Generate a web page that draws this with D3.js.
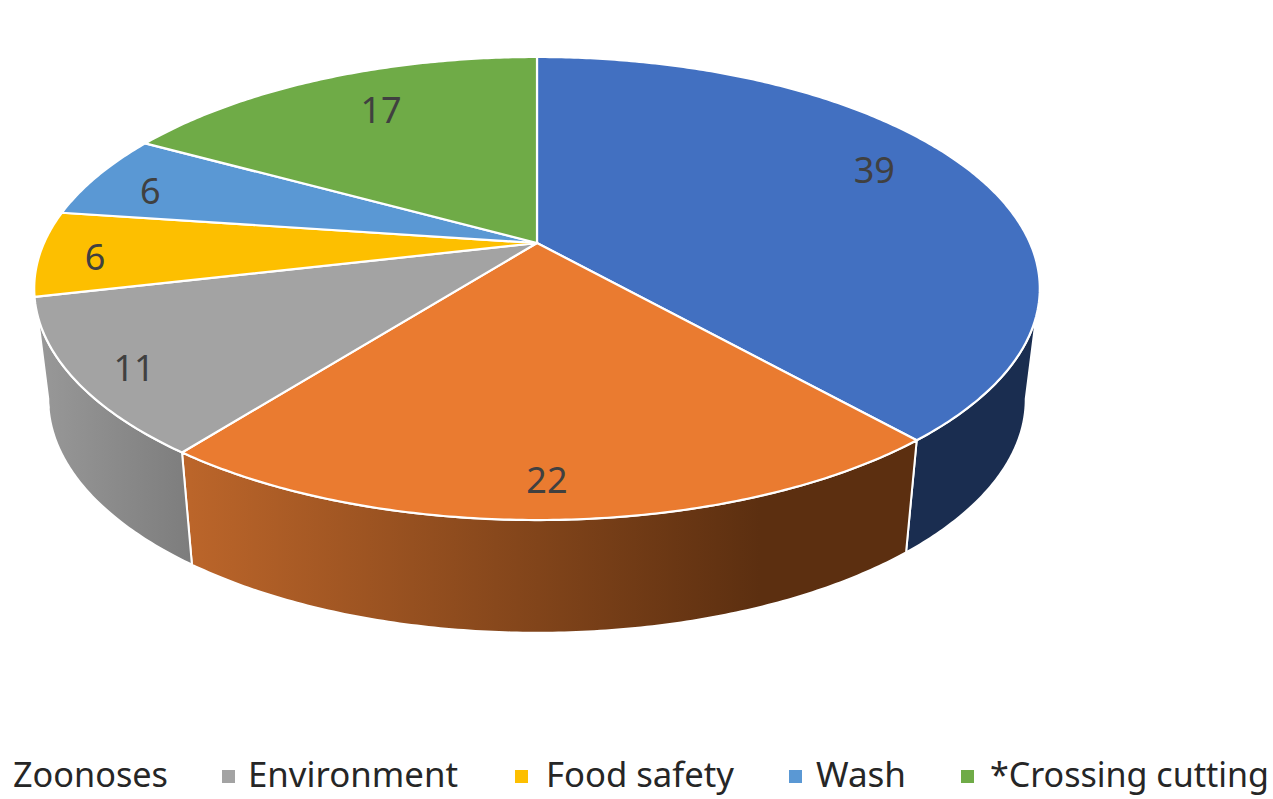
<!DOCTYPE html>
<html>
<head>
<meta charset="utf-8">
<script src="https://cdn.jsdelivr.net/npm/d3@7"></script>
<style>
  html, body { margin: 0; padding: 0; background: #fff; }
  svg { display: block; }
  text { font-family: "Noto Sans", sans-serif; }
</style>
</head>
<body>
<div id="chart"></div>
<script>
// Slices, clockwise from 12 o'clock. Printed values add up to 101.
const sliceValues = [39, 22, 11, 6, 6, 17];
const sliceColors = ['#4270c1', '#ea7b30', '#a3a3a3', '#fdbf00', '#5a98d4', '#6fab47'];
const sideColors = [
    ['#1a2d50', '#1a2d50'],
    ['#bb652a', '#5c2f10'],
    ['#989898', '#7d7d7d'],
    ['#997300', '#997300'],
    ['#375d80', '#375d80'],
    ['#43682b', '#43682b']
];

// Legend as cropped in the picture: the first two entries are cut off
const legendNames = ['Zoonoses', 'Environment', 'Food safety', 'Wash', '*Crossing cutting'];
const legendColors = [null, '#a3a3a3', '#fdbf00', '#5a98d4', '#6fab47'];
const legendTextX = [13, 248, 546, 816, 990];
const legendTextW = [155, 210, 188, 90, 279];
const legendMarkX = [null, 222, 515, 789, 961];

// Label position inside its slice: radius fraction and turn from the mid angle (degrees)
const labelRadius = [0.81, 0.88, 0.893, 0.888, 0.859, 0.766];
const labelTurn = [-5, 0.7, -1.5, -1.3, -2, 2.4];

const W = 1273, H = 799;
const cx = 537, cy = 243;      // apex of the tilted disc
const R = 493, S = 222.6, K = 0.1965; // perspective of the top face
const depth = 110.5, bottomScaleX = 0.972, bottomScaleY = 1.008;
const rimLimit = 0.194;        // depth coordinate where the rim turns away

const svg = d3.select('#chart').append('svg')
    .attr('width', W)
    .attr('height', H);
const defs = svg.append('defs');

// Top face point for angle a (clockwise from top) and radius fraction r
function topPoint(a, r = 1) {
    const u = r * Math.sin(a), v = -r * Math.cos(a);
    const d = 1 - K * v;
    return [cx + R * u / d, cy + S * v / d];
}

function bottomPoint(a) {
    const p = topPoint(a);
    return [cx + (p[0] - cx) * bottomScaleX, cy + (p[1] - cy) * bottomScaleY + depth];
}

function arcAngles(a0, a1) {
    const n = Math.max(2, Math.ceil((a1 - a0) / 0.01));
    return d3.range(n + 1).map(i => a0 + (a1 - a0) * i / n);
}

const pie = d3.pie().sort(null).value(d => d);
const slices = pie(sliceValues);
const line = d3.line();

// Front part of the disc that can be seen
const aFrom = Math.PI - Math.acos(rimLimit);
const aTo = Math.PI + Math.acos(rimLimit);

// Side walls
const sides = slices.map((d, i) => ({
    i,
    a0: Math.max(d.startAngle, aFrom),
    a1: Math.min(d.endAngle, aTo)
})).filter(d => d.a1 > d.a0);

sides.forEach(d => {
    const g = defs.append('linearGradient')
        .attr('id', 'side-' + d.i)
        .attr('gradientUnits', 'userSpaceOnUse')
        .attr('x1', d.i === 1 ? 190 : 40).attr('x2', d.i === 1 ? 760 : 190)
        .attr('y1', 0).attr('y2', 0);
    g.append('stop').attr('offset', '0%').attr('stop-color', sideColors[d.i][0]);
    g.append('stop').attr('offset', '100%').attr('stop-color', sideColors[d.i][1]);
});

svg.append('g').selectAll('path')
    .data(sides)
    .enter().append('path')
    .attr('d', d => {
        const angles = arcAngles(d.a0, d.a1);
        return line(angles.map(a => topPoint(a)).concat(angles.slice().reverse().map(bottomPoint))) + 'Z';
    })
    .attr('fill', d => `url(#side-${d.i})`)
    .attr('stroke', '#fff')
    .attr('stroke-width', 2)
    .attr('stroke-linejoin', 'round');

// Top face
svg.append('g').selectAll('path')
    .data(slices)
    .enter().append('path')
    .attr('d', d => line([[cx, cy]].concat(arcAngles(d.startAngle, d.endAngle).map(a => topPoint(a)))) + 'Z')
    .attr('fill', (d, i) => sliceColors[i])
    .attr('stroke', '#fff')
    .attr('stroke-width', 2.2)
    .attr('stroke-linejoin', 'round');

// Value labels
svg.append('g').selectAll('text')
    .data(slices)
    .enter().append('text')
    .attr('transform', (d, i) => {
        const mid = (d.startAngle + d.endAngle) / 2 + labelTurn[i] * Math.PI / 180;
        const p = topPoint(mid, labelRadius[i]);
        return `translate(${p[0]},${p[1]})`;
    })
    .attr('text-anchor', 'middle')
    .attr('dy', '0.36em')
    .attr('font-size', 36)
    .attr('fill', '#404040')
    .text(d => d.value);

// Legend
const legend = svg.append('g');
legendNames.forEach((name, i) => {
    legend.append('text')
        .attr('x', legendTextX[i])
        .attr('y', 787)
        .attr('font-size', 34)
        .attr('textLength', legendTextW[i])
        .attr('lengthAdjust', 'spacingAndGlyphs')
        .attr('fill', '#262626')
        .text(name);
    if (legendColors[i]) {
        legend.append('rect')
            .attr('x', legendMarkX[i])
            .attr('y', 770)
            .attr('width', 13)
            .attr('height', 13)
            .attr('fill', legendColors[i]);
    }
});
</script>
</body>
</html>
